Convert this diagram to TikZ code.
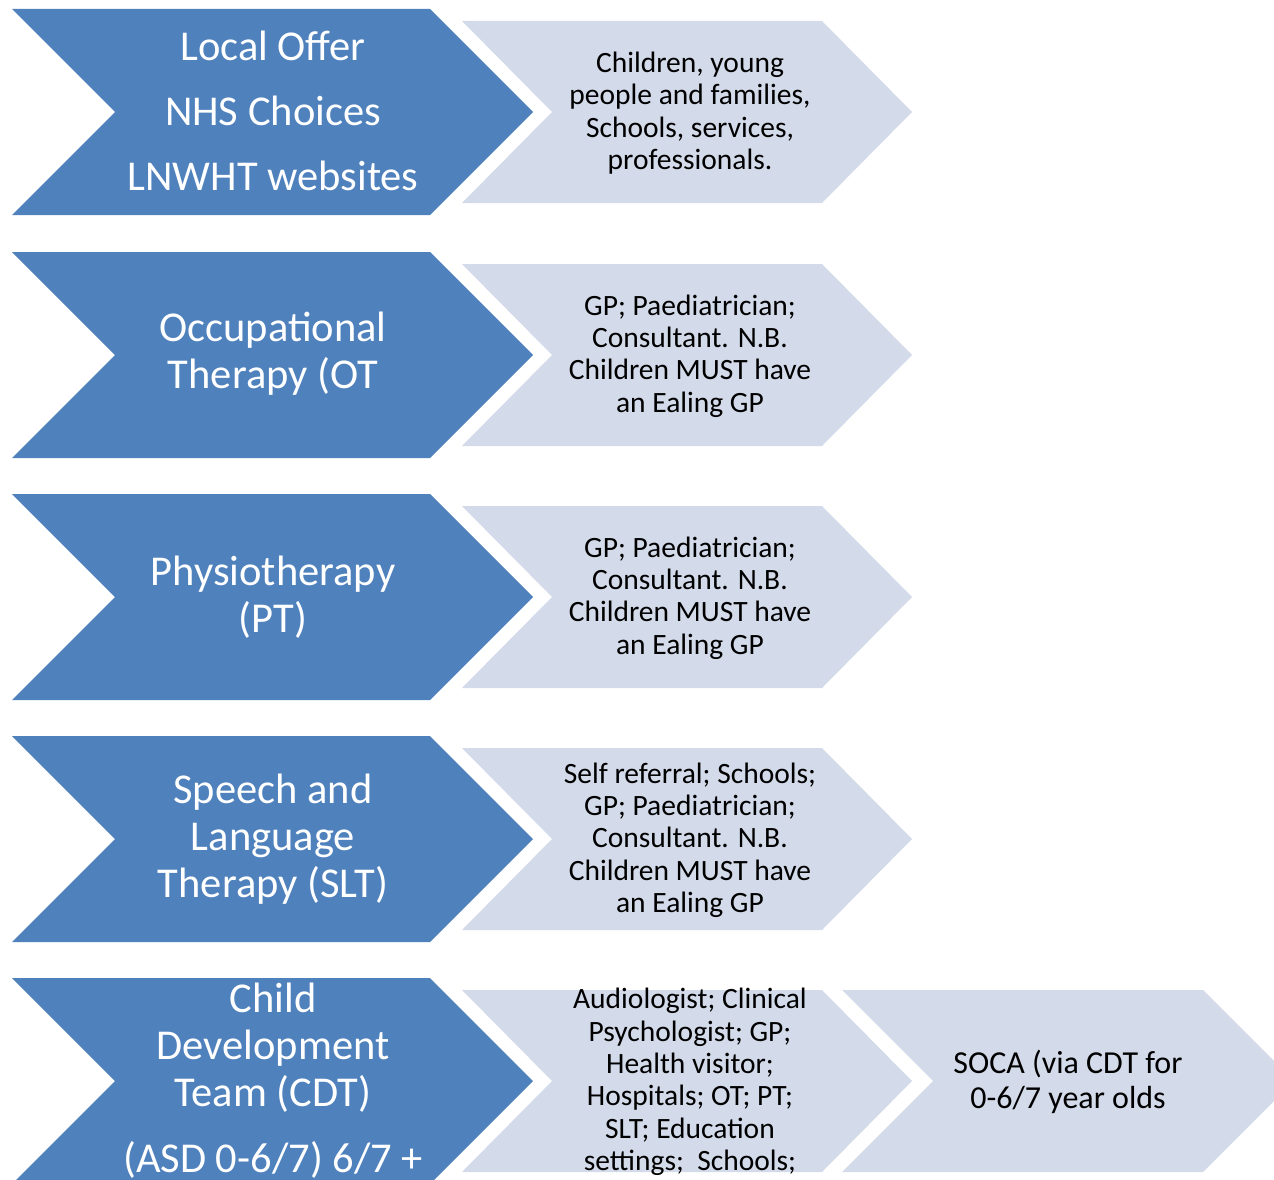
\documentclass[tikz,border=0pt]{standalone}
\usepackage{fontspec}
\setmainfont{Carlito}
\usepackage{tikz}
\usetikzlibrary{positioning}

\definecolor{offerblue}{HTML}{4F81BD}
\definecolor{routegrey}{HTML}{D3DAE9}

\begin{document}
\begin{tikzpicture}[x=1pt,y=-1pt,
  servicechev/.style={fill=offerblue,draw=none},
  routechev/.style={fill=routegrey,draw=none},
  servicetxt/.style={text=white,align=center,font=\fontsize{42.5}{47}\selectfont},
  routetxt/.style={text=black,align=center,font=\fontsize{29.5}{32.3}\selectfont}]

\useasboundingbox (0,0) rectangle (1274,1180);
\clip (0,0) rectangle (1274,1180);

%blue chevrons, one per service
\fill[servicechev] (12,9) -- (430,9) -- (533,112) -- (430,215) -- (12,215) -- (115,112) -- cycle;
\fill[servicechev] (12,252) -- (430,252) -- (533,355) -- (430,458) -- (12,458) -- (115,355) -- cycle;
\fill[servicechev] (12,494) -- (430,494) -- (533,597) -- (430,700) -- (12,700) -- (115,597) -- cycle;
\fill[servicechev] (12,736) -- (430,736) -- (533,839) -- (430,942) -- (12,942) -- (115,839) -- cycle;
\fill[servicechev] (12,978) -- (430,978) -- (533,1081) -- (430,1184) -- (12,1184) -- (115,1081) -- cycle;

%grey chevrons, who can refer
\fill[routechev] (462,21) -- (822,21) -- (912,112) -- (822,203) -- (462,203) -- (552,112) -- cycle;
\fill[routechev] (462,264) -- (822,264) -- (912,355) -- (822,446) -- (462,446) -- (552,355) -- cycle;
\fill[routechev] (462,506) -- (822,506) -- (912,597) -- (822,688) -- (462,688) -- (552,597) -- cycle;
\fill[routechev] (462,748) -- (822,748) -- (912,839) -- (822,930) -- (462,930) -- (552,839) -- cycle;
\fill[routechev] (462,990) -- (822,990) -- (912,1081) -- (822,1172) -- (462,1172) -- (552,1081) -- cycle;
\fill[routechev] (842,990) -- (1203,990) -- (1294,1081) -- (1203,1172) -- (842,1172) -- (933,1081) -- cycle;

%service names
\node[servicetxt,font=\fontsize{42.5}{65}\selectfont] (offer) at (273,111) {Local Offer\\NHS Choices\\LNWHT websites};
\node[servicetxt] (ot) at (273,354) {Occupational\\Therapy (OT};
\node[servicetxt] (pt) at (273,597) {Physiotherapy\\(PT)};
\node[servicetxt] (slt) at (273,839) {Speech and\\Language\\Therapy (SLT)};
\node[servicetxt] (cdt) at (273,1048) {Child\\Development\\Team (CDT)};
\node[servicetxt] (asd) at (273,1160) {(ASD 0-6/7) 6/7 +};

%referrers
\node[routetxt] (offer-to) at (690,113) {Children, young\\people and families,\\Schools, services,\\professionals.};
\node[routetxt] (ot-from) at (690,356) {GP; Paediatrician;\\Consultant. N.B.\\Children MUST have\\an Ealing GP};
\node[routetxt] (pt-from) at (690,598) {GP; Paediatrician;\\Consultant. N.B.\\Children MUST have\\an Ealing GP};
\node[routetxt] (slt-from) at (690,840) {Self referral; Schools;\\GP; Paediatrician;\\Consultant. N.B.\\Children MUST have\\an Ealing GP};
\node[routetxt] (cdt-from) at (690,1082) {Audiologist; Clinical\\Psychologist; GP;\\Health visitor;\\Hospitals; OT; PT;\\SLT; Education\\settings;\ \ Schools;};
\node[routetxt,font=\fontsize{32}{35}\selectfont] (soca) at (1068,1082) {SOCA (via CDT for\\0-6/7 year olds};

\end{tikzpicture}
\end{document}
